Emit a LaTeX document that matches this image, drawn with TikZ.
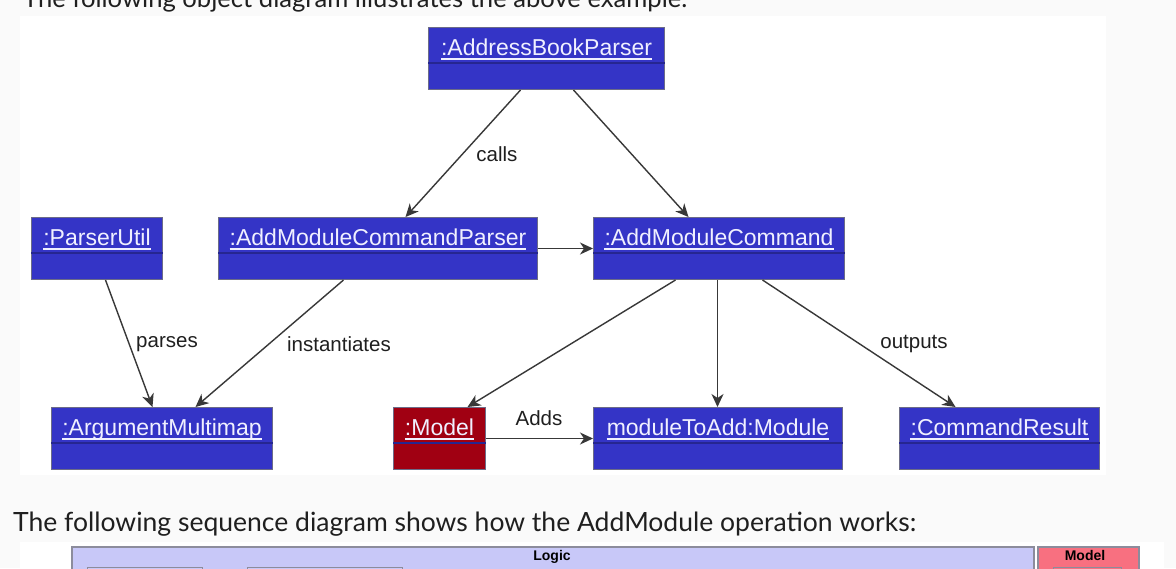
\documentclass[tikz,border=0pt]{standalone}
\usepackage{fontspec}
\setmainfont{Liberation Sans}
\newfontfamily\latofont{Lato}
\usetikzlibrary{arrows.meta,calc}
\definecolor{pagebg}{HTML}{FAFAFA}
\definecolor{objblue}{HTML}{3434C6}
\definecolor{objred}{HTML}{A00012}
\definecolor{objborder}{HTML}{6C6C88}
\definecolor{sepcol}{HTML}{262690}
\definecolor{objtxt}{HTML}{F0F0FF}
\definecolor{linecol}{HTML}{383838}
\definecolor{logicfill}{HTML}{C8C8F8}
\definecolor{modelfill}{HTML}{F87080}
\definecolor{seqborder}{HTML}{8C8C9C}
\definecolor{bodytext}{HTML}{1F1F1F}
\newcommand\umlobj[6]{%
  \node[obj, fill=#5, minimum width=#4pt] (#1) at (#2,#3) {};
  \node[objlbl] (#1-t) at ($(#1.north)+(0,28)$) {#6};
  \draw[ulinestyle] ([yshift=-4pt]#1-t.base west) -- ([yshift=-4pt]#1-t.base east);
  \draw[sepline] ([yshift=-36pt]#1.north west) -- ([yshift=-36pt]#1.north east);
}
\begin{document}
\begin{tikzpicture}[x=1pt,y=-1pt,
  obj/.style={draw=objborder, line width=1pt, minimum height=62pt, inner sep=0pt, anchor=north west},
  objlbl/.style={text=objtxt, font=\fontsize{23}{27}\selectfont, inner sep=0pt, anchor=base},
  ulinestyle/.style={draw=objtxt, line width=1.3pt},
  sepline/.style={draw=sepcol, line width=1.5pt},
  arr/.style={draw=linecol, line width=1.4pt, -{Stealth[length=13pt, width=12pt, inset=4pt]}},
  lbl/.style={text=bodytext, font=\fontsize{20.5}{24}\selectfont, inner sep=0pt},
  body/.style={text=bodytext, inner sep=0pt, anchor=base west},
  part/.style={draw=seqborder, line width=1.2pt, anchor=north west, inner sep=0pt, minimum height=30pt}
]
\useasboundingbox (0,0) rectangle (1176,568);
\clip (0,0) rectangle (1176,568);
\fill[pagebg] (0,0) rectangle (1176,568);
\fill[white] (20,16) rectangle (1106,475);
\fill[white] (20,542) rectangle (1164,568);

\node[body] (t1) at (23,7) {\resizebox{664pt}{!}{\latofont The following object diagram illustrates the above example.}};
\node[body] (t2) at (13,531) {\resizebox{903pt}{!}{\latofont The following sequence diagram shows how the AddModule operation works:}};

\umlobj{abp}{428}{27}{236}{objblue}{:AddressBookParser}
\umlobj{pu}{31}{217}{131}{objblue}{:ParserUtil}
\umlobj{amcp}{218}{217}{319}{objblue}{:AddModuleCommandParser}
\umlobj{amc}{593}{217}{251}{objblue}{:AddModuleCommand}
\umlobj{am}{51}{407}{221}{objblue}{:ArgumentMultimap}
\umlobj{model}{393}{407}{92}{objred}{:Model}
\umlobj{mod}{593}{407}{249}{objblue}{moduleToAdd:Module}
\umlobj{cr}{899}{407}{200}{objblue}{:CommandResult}

\draw[arr] ([xshift=-26pt]abp.south) -- ([xshift=27.5pt]amcp.north);
\draw[arr] ([xshift=27pt]abp.south) -- ([xshift=-30.5pt]amc.north);
\draw[arr] (amcp.east) -- (amc.west);
\draw[arr] ([xshift=8.5pt]pu.south) -- ([xshift=-9.5pt]am.north);
\draw[arr] ([xshift=-34.5pt]amcp.south) -- ([xshift=33.5pt]am.north);
\draw[arr] ([xshift=-43.5pt]amc.south) -- ([xshift=28pt]model.north);
\draw[arr] ([xshift=-1.5pt]amc.south) -- ([xshift=-0.5pt]mod.north);
\draw[arr] ([xshift=43.5pt]amc.south) -- ([xshift=-44pt]cr.north);
\draw[arr] (model.east) -- (mod.west);

\node[lbl] (lcalls) at (497,154) {calls};
\node[lbl] (lparses) at (167,344) {parses};
\node[lbl] (linst) at (339,344) {instantiates};
\node[lbl] (louts) at (914,344) {outputs};
\node[lbl] (ladds) at (539,418) {Adds};

\node[draw=seqborder, line width=1.5pt, fill=logicfill, anchor=north west, minimum width=962pt, minimum height=40pt, inner sep=0pt] (logic) at (71,546) {};
\node[draw=seqborder, line width=1.5pt, fill=modelfill, anchor=north west, minimum width=101pt, minimum height=40pt, inner sep=0pt] (modelpk) at (1037,546) {};
\node[font=\bfseries\fontsize{14}{16}\selectfont, inner sep=0pt, anchor=base] (logict) at (552,560) {Logic};
\node[font=\bfseries\fontsize{14}{16}\selectfont, inner sep=0pt, anchor=base] (modelt) at (1085,560) {Model};
\node[part, minimum width=115pt] (p1) at (87,567) {};
\node[part, minimum width=155pt] (p2) at (247,567) {};
\node[part, minimum width=68pt] (p3) at (1053,567) {};
\end{tikzpicture}
\end{document}
